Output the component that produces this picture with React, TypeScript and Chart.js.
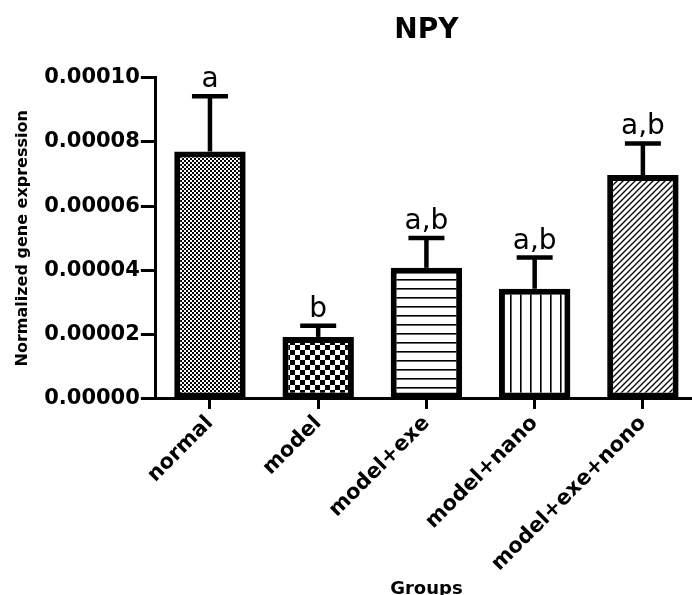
import React, { useEffect, useRef } from "react";
import { Chart, registerables } from "chart.js";

Chart.register(...registerables);

const categories = ["normal", "model", "model+exe", "model+nano", "model+exe+nono"];
const means = [0.0000770, 0.0000193, 0.0000408, 0.0000343, 0.0000697];
const errors = [0.0000172, 0.0000035, 0.0000093, 0.0000097, 0.0000098];
const letters = ["a", "b", "a,b", "a,b", "a,b"];
const yTicks = [0, 0.00002, 0.00004, 0.00006, 0.00008, 0.0001];

const FONT = "'DejaVu Sans', sans-serif";

function makePattern(kind: string): CanvasPattern | string {
  const c = document.createElement("canvas");
  const ctx = c.getContext("2d")!;
  if (kind === "fine") {
    c.width = 4; c.height = 4;
    ctx.fillStyle = "#fff"; ctx.fillRect(0, 0, 4, 4);
    ctx.fillStyle = "#000";
    ctx.fillRect(0, 0, 2, 2); ctx.fillRect(2, 2, 2, 2);
  } else if (kind === "checker") {
    c.width = 10; c.height = 10;
    ctx.fillStyle = "#fff"; ctx.fillRect(0, 0, 10, 10);
    ctx.fillStyle = "#000";
    ctx.fillRect(0, 0, 5, 5); ctx.fillRect(5, 5, 5, 5);
  } else if (kind === "hlines") {
    c.width = 4; c.height = 9;
    ctx.fillStyle = "#fff"; ctx.fillRect(0, 0, 4, 9);
    ctx.fillStyle = "#000"; ctx.fillRect(0, 0, 4, 1.6);
  } else if (kind === "vlines") {
    c.width = 10; c.height = 4;
    ctx.fillStyle = "#fff"; ctx.fillRect(0, 0, 10, 4);
    ctx.fillStyle = "#000"; ctx.fillRect(0, 0, 1.6, 4);
  } else {
    c.width = 6; c.height = 6;
    ctx.fillStyle = "#fff"; ctx.fillRect(0, 0, 6, 6);
    ctx.strokeStyle = "#000"; ctx.lineWidth = 1.3;
    ctx.beginPath();
    ctx.moveTo(-1, 7); ctx.lineTo(7, -1);
    ctx.moveTo(-4, 4); ctx.lineTo(4, -4);
    ctx.moveTo(2, 10); ctx.lineTo(10, 2);
    ctx.stroke();
  }
  return ctx.createPattern(c, "repeat") as CanvasPattern;
}

const errorBarPlugin = {
  id: "errorBars",
  afterDatasetsDraw(chart: any) {
    const ctx = chart.ctx;
    const meta = chart.getDatasetMeta(0);
    const y = chart.scales.y;
    ctx.save();
    ctx.strokeStyle = "#000";
    ctx.fillStyle = "#000";
    meta.data.forEach((bar: any, i: number) => {
      const x = bar.x;
      const top = y.getPixelForValue(means[i]);
      const errTop = y.getPixelForValue(means[i] + errors[i]);
      ctx.lineWidth = 4.5;
      ctx.beginPath();
      ctx.moveTo(x, top);
      ctx.lineTo(x, errTop);
      ctx.stroke();
      ctx.beginPath();
      ctx.moveTo(x - 18, errTop);
      ctx.lineTo(x + 18, errTop);
      ctx.stroke();
      ctx.font = `28px ${FONT}`;
      ctx.textAlign = "center";
      ctx.textBaseline = "alphabetic";
      ctx.fillText(letters[i], x, errTop - 9);
    });
    ctx.restore();
  },
};

export default function App() {
  const ref = useRef<HTMLCanvasElement>(null);
  useEffect(() => {
    const canvas = ref.current!;
    const patterns = [
      makePattern("fine"),
      makePattern("checker"),
      makePattern("hlines"),
      makePattern("vlines"),
      makePattern("diag"),
    ];
    const chart = new Chart(canvas, {
      type: "bar",
      data: {
        labels: categories,
        datasets: [
          {
            data: means,
            backgroundColor: patterns as any,
            borderColor: "#000",
            borderWidth: 6,
            borderSkipped: false,
            categoryPercentage: 1,
            barPercentage: 0.66,
          },
        ],
      },
      options: {
        animation: false,
        responsive: false,
        layout: { padding: { top: 0, right: 3, bottom: 0, left: 13 } },
        plugins: {
          legend: { display: false },
          tooltip: { enabled: false },
          title: {
            display: true,
            text: "NPY",
            fullSize: false,
            color: "#000",
            font: { family: FONT, size: 28, weight: "bold" },
            padding: { top: 14, bottom: 30 },
          },
        },
        scales: {
          x: {
            grid: {
              display: true,
              drawOnChartArea: false,
              drawTicks: true,
              tickLength: 10,
              tickWidth: 3,
              tickColor: "#000",
              offset: false,
            },
            border: { display: true, color: "#000", width: 3 },
            ticks: {
              color: "#000",
              font: { family: FONT, size: 21, weight: "bold" },
              maxRotation: 45,
              minRotation: 45,
              padding: 2,
            },
            title: {
              display: true,
              text: "Groups",
              color: "#000",
              font: { family: FONT, size: 18, weight: "bold" },
              padding: { top: 0, bottom: 0 },
            },
          },
          y: {
            min: 0,
            max: 0.0001,
            afterBuildTicks: (axis: any) => {
              axis.ticks = yTicks.map((v) => ({ value: v }));
            },
            grid: {
              display: true,
              drawOnChartArea: false,
              drawTicks: true,
              tickLength: 15,
              tickWidth: 3,
              tickColor: "#000",
            },
            border: { display: true, color: "#000", width: 3 },
            ticks: {
              color: "#000",
              font: { family: FONT, size: 21, weight: "bold" },
              padding: 1,
              callback: (v: any) => Number(v).toFixed(5),
            },
            title: {
              display: true,
              text: "Normalized gene expression",
              color: "#000",
              font: { family: FONT, size: 16, weight: "bold" },
              padding: { top: 0, bottom: 11 },
            },
          },
        },
      },
      plugins: [errorBarPlugin],
    });
    return () => chart.destroy();
  }, []);
  return (
    <div
      style={{
        position: "absolute",
        left: 0,
        top: 0,
        width: 692,
        height: 595,
        overflow: "hidden",
        background: "#fff",
      }}
    >
      <canvas ref={ref} width={700} height={600} style={{ width: 700, height: 600 }} />
    </div>
  );
}
